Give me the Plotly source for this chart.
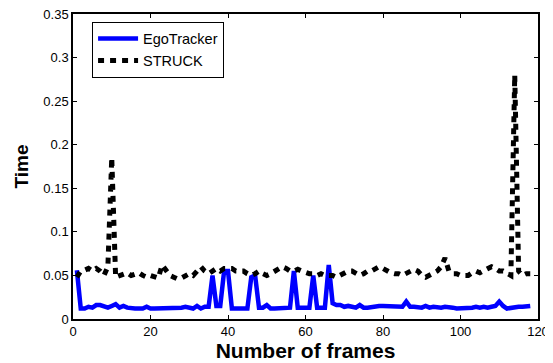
import plotly.graph_objects as go

frames = list(range(1, 119))

ego_tracker = [
    0.056, 0.012, 0.012, 0.014, 0.013, 0.016, 0.016, 0.015, 0.013, 0.015,
    0.017, 0.013, 0.015, 0.013, 0.012, 0.012, 0.012, 0.012, 0.014, 0.012,
    0.012, 0.012, 0.012, 0.012, 0.013, 0.012, 0.012, 0.013, 0.014, 0.013,
    0.012, 0.015, 0.012, 0.014, 0.014, 0.050, 0.015, 0.015, 0.055, 0.055,
    0.012, 0.012, 0.012, 0.013, 0.012, 0.048, 0.050, 0.013, 0.013, 0.016,
    0.012, 0.012, 0.012, 0.012, 0.013, 0.013, 0.055, 0.013, 0.013, 0.013,
    0.013, 0.050, 0.013, 0.013, 0.013, 0.062, 0.018, 0.016, 0.016, 0.014,
    0.015, 0.014, 0.013, 0.016, 0.013, 0.013, 0.014, 0.014, 0.015, 0.015,
    0.015, 0.015, 0.014, 0.014, 0.014, 0.020, 0.014, 0.014, 0.013, 0.013,
    0.015, 0.013, 0.014, 0.013, 0.013, 0.014, 0.014, 0.013, 0.012, 0.012,
    0.012, 0.013, 0.013, 0.014, 0.013, 0.014, 0.013, 0.014, 0.015, 0.020,
    0.015, 0.012, 0.013, 0.013, 0.014, 0.014, 0.015, 0.015,
]

struck = [
    0.048, 0.055, 0.056, 0.058, 0.055, 0.058, 0.055, 0.050, 0.060, 0.185,
    0.048, 0.050, 0.052, 0.053, 0.050, 0.052, 0.053, 0.050, 0.048, 0.050,
    0.048, 0.047, 0.062, 0.055, 0.050, 0.048, 0.046, 0.047, 0.050, 0.052,
    0.050, 0.055, 0.060, 0.055, 0.052, 0.055, 0.058, 0.055, 0.058, 0.058,
    0.058, 0.055, 0.055, 0.055, 0.052, 0.050, 0.052, 0.055, 0.052, 0.050,
    0.052, 0.055, 0.057, 0.060, 0.058, 0.055, 0.055, 0.057, 0.055, 0.053,
    0.052, 0.052, 0.050, 0.052, 0.050, 0.050, 0.050, 0.048, 0.050, 0.053,
    0.055, 0.055, 0.052, 0.050, 0.052, 0.055, 0.055, 0.057, 0.060, 0.058,
    0.055, 0.053, 0.052, 0.052, 0.050, 0.052, 0.055, 0.057, 0.055, 0.050,
    0.048, 0.050, 0.052, 0.055, 0.060, 0.070, 0.055, 0.052, 0.052, 0.050,
    0.050, 0.050, 0.053, 0.055, 0.053, 0.055, 0.058, 0.060, 0.058, 0.055,
    0.055, 0.052, 0.050, 0.280, 0.055, 0.050, 0.052, 0.052,
]

x_ticks = [0, 20, 40, 60, 80, 100, 120]
y_ticks = [0, 0.05, 0.1, 0.15, 0.2, 0.25, 0.3, 0.35]
y_tick_labels = ["0", "0.05", "0.1", "0.15", "0.2", "0.25", "0.3", "0.35"]

fig = go.Figure()
fig.add_trace(go.Scatter(
    x=frames, y=ego_tracker, mode="lines", name="EgoTracker",
    line=dict(color="#0000ff", width=4.5),
))
fig.add_trace(go.Scatter(
    x=frames, y=struck, mode="lines", name="STRUCK",
    line=dict(color="#000000", width=5, dash="6px,6px"),
))

axis_common = dict(
    showgrid=False, zeroline=False, showline=True, linecolor="black",
    linewidth=1.5, mirror="ticks", ticks="inside", ticklen=4,
    tickcolor="black", automargin=False, ticklabeloverflow="allow",
    tickfont=dict(family="Liberation Sans, Arial", size=13, color="black"),
)

# page body has an 8px default margin, so the figure is shifted by 8px
fig.update_layout(
    width=545, height=355,
    margin=dict(l=65, r=15, t=6, b=44),
    paper_bgcolor="white", plot_bgcolor="white",
    font=dict(family="Liberation Sans, Arial", color="black"),
    xaxis=dict(range=[0, 120], tickvals=x_ticks,
               title=dict(text="<b>Number of frames</b>", font=dict(size=21), standoff=2),
               **axis_common),
    yaxis=dict(range=[0, 0.35], tickvals=y_ticks, ticktext=y_tick_labels,
               title=dict(text="<b>Time</b>", font=dict(size=19), standoff=10),
               **axis_common),
    legend=dict(x=0.041, y=0.975, xanchor="left", yanchor="top",
                bgcolor="white", bordercolor="black", borderwidth=1,
                font=dict(size=14.5, color="black"), tracegroupgap=0,
                itemwidth=40),
    showlegend=True,
)

fig.write_html("out.html")
